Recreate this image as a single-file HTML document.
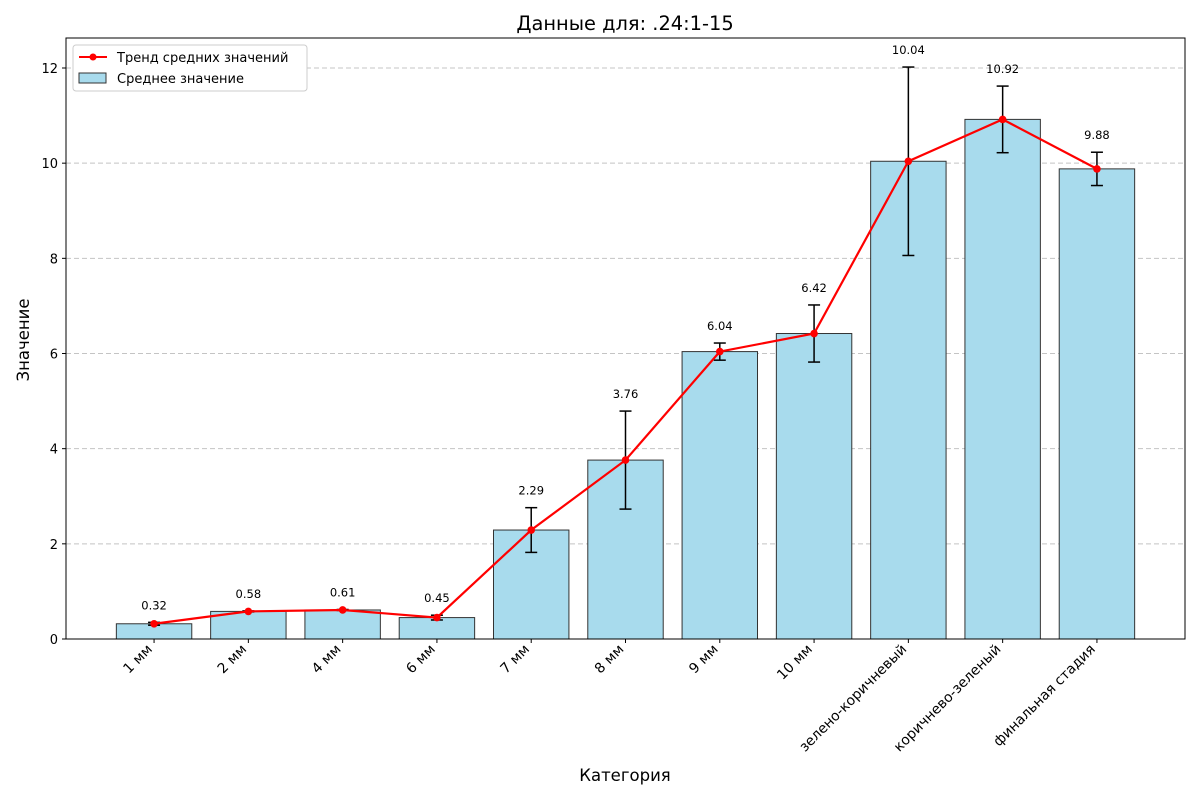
<!DOCTYPE html>
<html><head><meta charset="utf-8"><style>
body{margin:0;background:#fff;}
svg{display:block;font-family:"DejaVu Sans","Liberation Sans",sans-serif;}
</style></head><body>
<svg id="chart" width="1200" height="800" xmlns="http://www.w3.org/2000/svg">
<text x="625" y="30" font-size="19.4" text-anchor="middle">Данные для: .24:1-15</text>
<text x="625" y="781" font-size="16.5" text-anchor="middle">Категория</text>
<text x="29" y="340" font-size="16.5" text-anchor="middle" transform="rotate(-90 29 340)">Значение</text>
<g id="grid"></g><g id="bars"></g><g id="errs"></g><g id="line"></g><g id="labels"></g><g id="axes"></g>
<g>
<rect x="73" y="45" width="234" height="46" fill="#fff" stroke="#ccc" rx="3"/>
<line x1="79" y1="57" x2="107" y2="57" stroke="#f00" stroke-width="2"/>
<circle cx="93" cy="57" r="3.5" fill="#f00"/>
<text x="117" y="62" font-size="13">Тренд средних значений</text>
<rect x="79" y="73" width="27" height="10" fill="#a8dbed" stroke="#333"/>
<text x="117" y="83" font-size="13">Среднее значение</text>
</g>
</svg>
<script>
const categories=["1 мм","2 мм","4 мм","6 мм","7 мм","8 мм","9 мм","10 мм","зелено-коричневый","коричнево-зеленый","финальная стадия"];
const means=[0.32,0.58,0.61,0.45,2.29,3.76,6.04,6.42,10.04,10.92,9.88];
const errors=[0.03,0.01,0.01,0.05,0.47,1.03,0.18,0.6,1.98,0.7,0.35];
const yTicks=[0,2,4,6,8,10,12];
const NS="http://www.w3.org/2000/svg";
const L=66,R=1185,T=38,B=639;
const x=i=>L+(i+0.934)*(R-L)/11.868;
const y=v=>B-v*(B-68)/12;
const bw=0.8*(R-L)/11.868;
function mk(p,t,a){const e=document.createElementNS(NS,t);for(const k in a)e.setAttribute(k,a[k]);document.getElementById(p).appendChild(e);return e;}
yTicks.forEach(t=>{
 const g=mk('grid','line',{x1:L,x2:R,y1:y(t),y2:y(t),stroke:'#c4c4c4','stroke-dasharray':'5,3'});
 
 
 mk('axes','line',{x1:L-4,x2:L,y1:y(t),y2:y(t),stroke:'#000'});
 const tx=mk('axes','text',{x:L-8,y:y(t)+5,'font-size':13,'text-anchor':'end'});tx.textContent=t;
 
 
});
means.forEach((m,i)=>{
 const b=mk('bars','rect',{x:x(i)-bw/2,y:y(m),width:bw,height:B-y(m),fill:'#a8dbed',stroke:'#333','stroke-width':1});
 
 
 const t=y(m+errors[i]),bo=y(m-errors[i]);
 mk('errs','line',{x1:x(i),x2:x(i),y1:t,y2:bo,stroke:'#000','stroke-width':1.5});
 mk('errs','line',{x1:x(i)-6,x2:x(i)+6,y1:t,y2:t,stroke:'#000','stroke-width':1.5});
 mk('errs','line',{x1:x(i)-6,x2:x(i)+6,y1:bo,y2:bo,stroke:'#000','stroke-width':1.5});
 const lb=mk('labels','text',{x:x(i),y:t-13,'font-size':11.5,'text-anchor':'middle'});lb.textContent=m.toFixed(2);
 
 
 mk('axes','line',{x1:x(i),x2:x(i),y1:B,y2:B+4,stroke:'#000'});
 const cx=x(i)-1,cy=B+11;
 const ct=mk('axes','text',{x:cx,y:cy,'font-size':13.9,'text-anchor':'end',transform:`rotate(-45 ${cx} ${cy})`});ct.textContent=categories[i];
 
 
});
const pl=mk('line','polyline',{points:means.map((m,i)=>x(i)+','+y(m)).join(' '),fill:'none',stroke:'#f00','stroke-width':2.2});


means.forEach((m,i)=>{const c=mk('line','circle',{cx:x(i),cy:y(m),r:3.8,fill:'#f00'});
 
 });
mk('axes','rect',{x:L,y:T,width:R-L,height:B-T,fill:'none',stroke:'#000','stroke-width':1});
</script>
</body></html>
